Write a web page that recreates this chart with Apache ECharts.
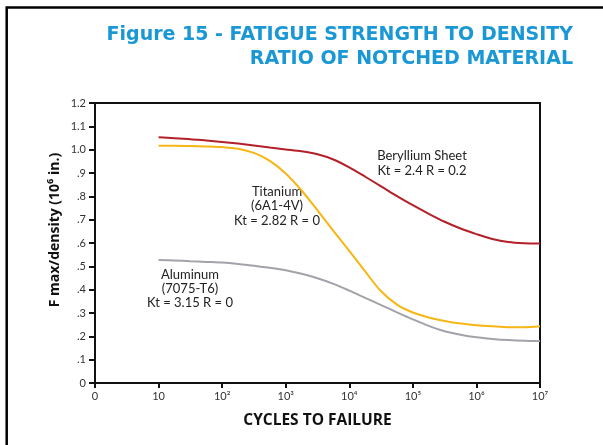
<!DOCTYPE html>
<html><head><meta charset="utf-8">
<script src="https://cdn.jsdelivr.net/npm/echarts@6/dist/echarts.min.js"></script>
<style>html,body{margin:0;padding:0;background:#fff}#c{width:603px;height:445px}</style>
</head><body><div id="c"></div>
<script>
// log10(cycles to failure)
const cycleExp = [1, 1.25, 1.5, 1.75, 2, 2.25, 2.5, 2.75, 3, 3.25, 3.5, 3.75, 4, 4.25, 4.5, 4.75, 5, 5.25, 5.5, 5.75, 6, 6.25, 6.5, 6.75, 7];
const beryllium = [1.053, 1.049, 1.045, 1.039, 1.033, 1.026, 1.018, 1.009, 1.001, 0.993, 0.980, 0.958, 0.924, 0.884, 0.843, 0.801, 0.762, 0.725, 0.691, 0.662, 0.638, 0.617, 0.604, 0.599, 0.598];
const titanium  = [1.017, 1.017, 1.016, 1.014, 1.011, 1.004, 0.986, 0.952, 0.898, 0.825, 0.740, 0.652, 0.566, 0.478, 0.393, 0.336, 0.302, 0.281, 0.266, 0.255, 0.248, 0.243, 0.239, 0.239, 0.243];
const aluminum  = [0.527, 0.525, 0.522, 0.519, 0.516, 0.510, 0.502, 0.494, 0.483, 0.468, 0.449, 0.425, 0.396, 0.365, 0.334, 0.303, 0.273, 0.245, 0.222, 0.207, 0.196, 0.189, 0.184, 0.181, 0.180];
const xTickLabels = ['0', '10', '10²', '10³', '10⁴', '10⁵', '10⁶', '10⁷'];

const font = 'Lato, "Open Sans", sans-serif';
const bfont = '"Open Sans", Lato, sans-serif';
const tfont = '"DejaVu Sans", "Open Sans", sans-serif';
const pair = arr => cycleExp.map((x, i) => [x, arr[i]]);
const chart = echarts.init(document.getElementById('c'));
chart.setOption({
  animation: false,
  grid: {left: 95, right: 63, top: 103, bottom: 62, show: true, borderColor: '#111', borderWidth: 2},
  xAxis: {
    type: 'value', min: 0, max: 7, interval: 1,
    name: 'CYCLES TO FAILURE', nameLocation: 'middle', nameGap: 30,
    nameTextStyle: {fontSize: 15.5, fontWeight: 'bold', fontFamily: bfont, color: '#111'},
    axisLine: {lineStyle: {color: '#111', width: 2}},
    axisTick: {length: 5, lineStyle: {color: '#111', width: 2}},
    axisLabel: {formatter: v => xTickLabels[Math.round(v)], fontSize: 11, color: '#333', fontFamily: font, margin: 8},
    splitLine: {show: false}
  },
  yAxis: {
    type: 'value', min: 0, max: 1.2, interval: 0.1,
    axisLine: {lineStyle: {color: '#111', width: 2}},
    axisTick: {length: 6, lineStyle: {color: '#111', width: 2}},
    axisLabel: {formatter: v => { if (Math.abs(v) < 1e-9) return '0'; const s = v.toFixed(1); return v < 1 ? s.slice(1) : s; }, fontSize: 11, color: '#333', fontFamily: font, margin: 9},
    splitLine: {show: false}
  },
  series: [
    {type: 'line', data: pair(beryllium), smooth: 0.3, symbol: 'none', lineStyle: {color: '#b3202a', width: 2}},
    {type: 'line', data: pair(titanium), smooth: 0.3, symbol: 'none', lineStyle: {color: '#f8b614', width: 2}},
    {type: 'line', data: pair(aluminum), smooth: 0.3, symbol: 'none', lineStyle: {color: '#a2a3aa', width: 2}}
  ],
  graphic: [
    {type: 'rect', shape: {x: 6.7, y: 7.5, width: 800, height: 800}, style: {fill: 'none', stroke: '#000', lineWidth: 2.5}},
    {type: 'text', style: {text: 'Figure 15 - FATIGUE STRENGTH TO DENSITY', x: 573, y: 35, textAlign: 'right', textVerticalAlign: 'middle', font: 'bold 19px ' + tfont, fill: '#1a98d5'}},
    {type: 'text', style: {text: 'RATIO OF NOTCHED MATERIAL', x: 573, y: 59, textAlign: 'right', textVerticalAlign: 'middle', font: 'bold 19px ' + tfont, fill: '#1a98d5'}},
    {type: 'text', rotation: Math.PI / 2, x: 55, y: 230, style: {text: 'F max/density (10⁶ in.)', x: 0, y: 0, textAlign: 'center', textVerticalAlign: 'middle', font: 'bold 14px ' + bfont, fill: '#111'}},
    {type: 'text', style: {text: 'Beryllium Sheet\nKt = 2.4 R = 0.2', x: 422, y: 163, textAlign: 'center', textVerticalAlign: 'middle', font: '13px ' + font, fill: '#222', lineHeight: 15}},
    {type: 'text', style: {text: 'Titanium\n(6A1-4V)\nKt = 2.82 R = 0', x: 277, y: 206, textAlign: 'center', textVerticalAlign: 'middle', font: '13px ' + font, fill: '#222', lineHeight: 14.5}},
    {type: 'text', style: {text: 'Aluminum\n(7075-T6)\nKt = 3.15 R = 0', x: 190, y: 289, textAlign: 'center', textVerticalAlign: 'middle', font: '13px ' + font, fill: '#222', lineHeight: 14}}
  ]
});
</script></body></html>
